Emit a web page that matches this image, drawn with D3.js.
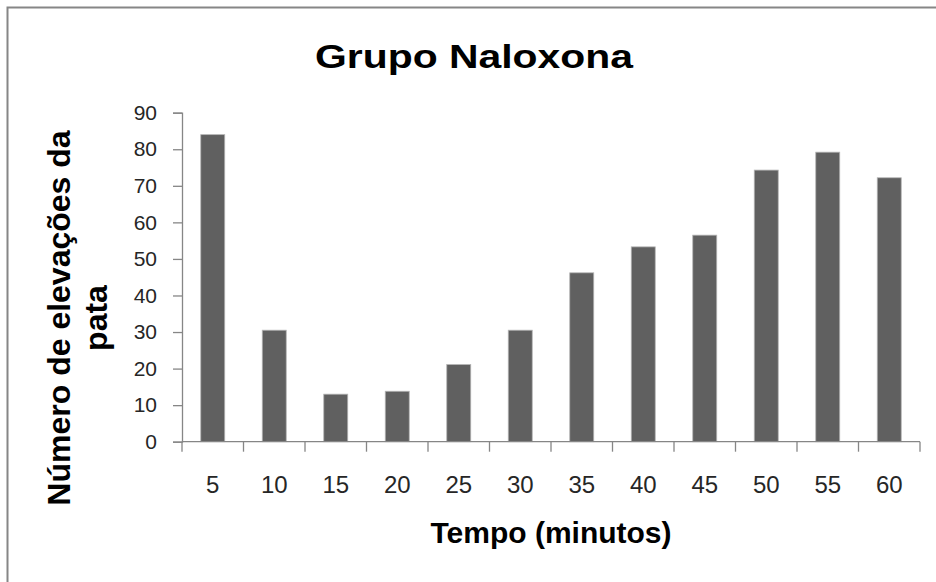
<!DOCTYPE html>
<html>
<head>
<meta charset="utf-8">
<script src="https://cdn.jsdelivr.net/npm/d3@7"></script>
<style>
  html, body { margin: 0; padding: 0; background: #fff; overflow: hidden; }
  svg { display: block; font-family: "Liberation Sans", Arial, sans-serif; }
</style>
</head>
<body>
<svg width="936" height="582"></svg>
<script>
// valores
const minutos = ['5', '10', '15', '20', '25', '30', '35', '40', '45', '50', '55', '60'];
const elevacoes = [84, 30.5, 13, 13.8, 21.1, 30.5, 46.2, 53.3, 56.5, 74.3, 79.2, 72.2];
const yTicks = [0, 10, 20, 30, 40, 50, 60, 70, 80, 90];

const titulo = 'Grupo Naloxona';
const yTitulo = ['Número de elevações da', 'pata'];
const xTitulo = 'Tempo (minutos)';

const width = 936;
const height = 582;
const plot = { left: 182, right: 920, top: 112.7, bottom: 441.7 };
const axisColor = '#868686';

const svg = d3.select('svg');

// moldura do grafico (sai pela direita e por baixo)
svg.append('rect')
  .attr('x', 7.5)
  .attr('y', 7.5)
  .attr('width', 1000)
  .attr('height', 1000)
  .attr('fill', '#fff')
  .attr('stroke', axisColor)
  .attr('stroke-width', 2);

const x = d3.scaleBand()
  .domain(minutos)
  .range([plot.left, plot.right])
  .paddingInner(0.61)
  .paddingOuter(0.305);

const y = d3.scaleLinear()
  .domain([0, 90])
  .range([plot.bottom, plot.top]);

// barras
svg.append('g')
  .selectAll('rect')
  .data(elevacoes)
  .enter().append('rect')
  .attr('x', (d, i) => x(minutos[i]))
  .attr('y', d => y(d))
  .attr('width', x.bandwidth())
  .attr('height', d => y(0) - y(d))
  .attr('fill', '#606060')
  .attr('stroke', '#b4b4b4')
  .attr('stroke-width', 0.8);

// eixo y
const yAxis = d3.axisLeft(y)
  .tickValues(yTicks)
  .tickSize(9)
  .tickPadding(16)
  .tickFormat(d3.format('d'));

const gy = svg.append('g')
  .attr('transform', `translate(${plot.left},0)`)
  .call(yAxis);
gy.select('.domain').attr('stroke', axisColor).attr('stroke-width', 1.3);
gy.selectAll('.tick line').attr('stroke', axisColor).attr('stroke-width', 1.3);
gy.selectAll('.tick text')
  .attr('fill', '#262626')
  .style('font-size', '21px');

// eixo x: marcas entre as categorias, rotulos no centro
const gx = svg.append('g');
gx.append('line')
  .attr('x1', plot.left).attr('x2', plot.right)
  .attr('y1', plot.bottom).attr('y2', plot.bottom)
  .attr('stroke', axisColor).attr('stroke-width', 1.3);

const bordas = minutos.map(m => x(m) - x.step() * x.paddingOuter()).concat([plot.right]);
gx.selectAll('line.tick')
  .data(bordas)
  .enter().append('line')
  .attr('class', 'tick')
  .attr('x1', d => d).attr('x2', d => d)
  .attr('y1', plot.bottom).attr('y2', plot.bottom + 10)
  .attr('stroke', axisColor).attr('stroke-width', 1.3);

gx.selectAll('text')
  .data(minutos)
  .enter().append('text')
  .attr('x', d => x(d) + x.bandwidth() / 2)
  .attr('y', 493)
  .attr('text-anchor', 'middle')
  .attr('fill', '#262626')
  .style('font-size', '24px')
  .text(d => d);

// titulo
svg.append('text')
  .attr('x', 474)
  .attr('y', 68)
  .attr('text-anchor', 'middle')
  .attr('textLength', 318)
  .attr('lengthAdjust', 'spacingAndGlyphs')
  .style('font-size', '34px')
  .style('font-weight', 'bold')
  .text(titulo);

// titulo do eixo y (duas linhas)
const yt = svg.append('text')
  .attr('transform', 'translate(70,318) rotate(-90)')
  .attr('text-anchor', 'middle')
  .style('font-size', '32px')
  .style('font-weight', 'bold');
yt.selectAll('tspan')
  .data(yTitulo)
  .enter().append('tspan')
  .attr('x', 0)
  .attr('dy', (d, i) => i === 0 ? 0 : 37)
  .text(d => d);

// titulo do eixo x
svg.append('text')
  .attr('x', (plot.left + plot.right) / 2)
  .attr('y', 543)
  .attr('text-anchor', 'middle')
  .style('font-size', '30px')
  .style('font-weight', 'bold')
  .text(xTitulo);
</script>
</body>
</html>
